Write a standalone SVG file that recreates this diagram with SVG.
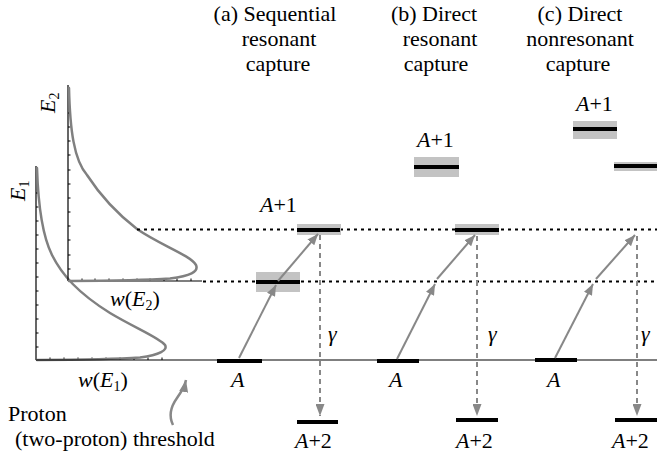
<svg xmlns="http://www.w3.org/2000/svg" width="657" height="457" viewBox="0 0 657 457">
<defs>
<style>
text{font-family:"Liberation Serif","Times New Roman",serif;font-size:22px;fill:#000}
.it{font-style:italic}
.sub{font-size:14px;font-style:normal}
.axis{stroke:#000;stroke-width:1.2;fill:none}
.tick{stroke:#000;stroke-width:1}
.curve{stroke:#808080;stroke-width:2.5;fill:none;stroke-linecap:round}
.dot{stroke:#000;stroke-width:1.8;stroke-dasharray:3 4;fill:none}
.lvl{stroke:#000;stroke-width:4}
.box{fill:#c3c3c3}
.arr{stroke:#888;stroke-width:2;fill:none}
.gam{stroke:#888;stroke-width:2;stroke-dasharray:5 4;fill:none}
</style>
<marker id="ah" markerUnits="userSpaceOnUse" markerWidth="11" markerHeight="9" refX="11" refY="4.5" orient="auto">
<path d="M0,0 L11,4.5 L0,9 z" fill="#888"/>
</marker>
<marker id="ahg" markerUnits="userSpaceOnUse" markerWidth="12" markerHeight="9" refX="12" refY="4.5" orient="auto">
<path d="M0,0 L12,4.5 L0,9 z" fill="#888"/>
</marker>
</defs>

<g id="plot-E1">
<line class="axis" x1="36" y1="166" x2="36" y2="360"/>
<g class="tick">
<line x1="36" y1="193" x2="38.5" y2="193"/><line x1="36" y1="207" x2="38.5" y2="207"/><line x1="36" y1="221" x2="38.5" y2="221"/><line x1="36" y1="235" x2="38.5" y2="235"/><line x1="36" y1="249" x2="38.5" y2="249"/><line x1="36" y1="263" x2="38.5" y2="263"/><line x1="36" y1="277" x2="38.5" y2="277"/><line x1="36" y1="291" x2="38.5" y2="291"/><line x1="36" y1="305" x2="38.5" y2="305"/><line x1="36" y1="319" x2="38.5" y2="319"/><line x1="36" y1="333" x2="38.5" y2="333"/><line x1="36" y1="347" x2="38.5" y2="347"/>
<line x1="50" y1="360" x2="50" y2="357.5"/><line x1="64" y1="360" x2="64" y2="357.5"/><line x1="78" y1="360" x2="78" y2="357.5"/><line x1="92" y1="360" x2="92" y2="357.5"/><line x1="106" y1="360" x2="106" y2="357.5"/><line x1="120" y1="360" x2="120" y2="357.5"/><line x1="134" y1="360" x2="134" y2="357.5"/><line x1="148" y1="360" x2="148" y2="357.5"/><line x1="162" y1="360" x2="162" y2="357.5"/>
</g>
<path class="curve" d="M37,168 C38,200 42,235 52,255 C62,275 78,293 110,313 C135,328 160,338 165,345 C168,350 160,355 140,357.5 C110,359.5 70,359.8 37,360"/>
<text class="it" x="0" y="0" transform="translate(25,201) rotate(-90)">E<tspan class="sub" dy="4">1</tspan></text>
<text x="78" y="387"><tspan class="it">w</tspan>(<tspan class="it">E</tspan><tspan class="sub" dy="4">1</tspan><tspan dy="-4">)</tspan></text>
</g>

<g id="plot-E2">
<line class="axis" x1="68" y1="85" x2="68" y2="281"/>
<line class="axis" x1="68" y1="281" x2="202" y2="281"/>
<g class="tick">
<line x1="68" y1="113" x2="70.5" y2="113"/><line x1="68" y1="127" x2="70.5" y2="127"/><line x1="68" y1="141" x2="70.5" y2="141"/><line x1="68" y1="155" x2="70.5" y2="155"/><line x1="68" y1="170" x2="70.5" y2="170"/><line x1="68" y1="184" x2="70.5" y2="184"/><line x1="68" y1="198" x2="70.5" y2="198"/><line x1="68" y1="212" x2="70.5" y2="212"/><line x1="68" y1="226" x2="70.5" y2="226"/><line x1="68" y1="240" x2="70.5" y2="240"/><line x1="68" y1="255" x2="70.5" y2="255"/><line x1="68" y1="269" x2="70.5" y2="269"/>
<line x1="82" y1="281" x2="82" y2="278.5"/><line x1="95" y1="281" x2="95" y2="278.5"/><line x1="109" y1="281" x2="109" y2="278.5"/><line x1="123" y1="281" x2="123" y2="278.5"/><line x1="137" y1="281" x2="137" y2="278.5"/><line x1="150" y1="281" x2="150" y2="278.5"/><line x1="164" y1="281" x2="164" y2="278.5"/><line x1="177" y1="281" x2="177" y2="278.5"/><line x1="191" y1="281" x2="191" y2="278.5"/>
</g>
<path class="curve" d="M69,88 C70,130 74,160 87,175 C100,195 115,212 137,229 C160,245 190,255 196,265 C199,272 190,276 170,278.5 C140,280.5 100,280.8 69,281"/>
<text class="it" x="0" y="0" transform="translate(55,113) rotate(-90)">E<tspan class="sub" dy="4">2</tspan></text>
<text x="110" y="306"><tspan class="it">w</tspan>(<tspan class="it">E</tspan><tspan class="sub" dy="4">2</tspan><tspan dy="-4">)</tspan></text>
</g>

<g id="threshold">
<line class="axis" x1="36" y1="360" x2="657" y2="360"/>
<path d="M173,425 C168,415 172,405 177,398 C182,391 185,385 186,380" stroke="#888" stroke-width="2.5" fill="none" marker-end="url(#ahg)"/>
<text x="8" y="421">Proton</text>
<text x="15" y="446">(two-proton) threshold</text>
</g>

<g id="levels-guides">
<line class="dot" x1="137" y1="229.5" x2="657" y2="229.5"/>
<line class="dot" x1="203" y1="281.5" x2="657" y2="281.5"/>
</g>

<g id="col-a">
<text x="275" y="21" text-anchor="middle">(a) Sequential</text>
<text x="279" y="46" text-anchor="middle">resonant</text>
<text x="278" y="71" text-anchor="middle">capture</text>
<rect class="box" x="256" y="272" width="44" height="20"/>
<line class="lvl" x1="256" y1="282" x2="300" y2="282"/>
<rect class="box" x="297" y="224" width="44" height="11"/>
<line class="lvl" x1="297" y1="230" x2="340" y2="230"/>
<line class="lvl" x1="217" y1="361" x2="262" y2="361"/>
<text x="260" y="212"><tspan class="it">A</tspan>+1</text>
<text class="it" x="231" y="387">A</text>
<line class="lvl" x1="297" y1="422" x2="338" y2="422"/>
<text x="295" y="448"><tspan class="it">A</tspan>+2</text>
<text class="it" x="328" y="341">γ</text>
</g>

<g id="col-b">
<text x="434" y="21" text-anchor="middle">(b) Direct</text>
<text x="440" y="46" text-anchor="middle">resonant</text>
<text x="436" y="71" text-anchor="middle">capture</text>
<rect class="box" x="414" y="157" width="45" height="20"/>
<line class="lvl" x1="414" y1="167" x2="459" y2="167"/>
<rect class="box" x="455" y="224" width="44" height="11"/>
<line class="lvl" x1="455" y1="230" x2="499" y2="230"/>
<line class="lvl" x1="377" y1="361" x2="419" y2="361"/>
<text x="417" y="147"><tspan class="it">A</tspan>+1</text>
<text class="it" x="389" y="387">A</text>
<line class="lvl" x1="456" y1="420" x2="498" y2="420"/>
<text x="456" y="448"><tspan class="it">A</tspan>+2</text>
<text class="it" x="488" y="341">γ</text>
</g>

<g id="col-c">
<text x="580" y="21" text-anchor="middle">(c) Direct</text>
<text x="580" y="46" text-anchor="middle">nonresonant</text>
<text x="578" y="71" text-anchor="middle">capture</text>
<rect class="box" x="573" y="121" width="44" height="18"/>
<line class="lvl" x1="573" y1="129" x2="617" y2="129"/>
<rect class="box" x="614" y="162" width="43" height="9"/>
<line class="lvl" x1="614" y1="166" x2="657" y2="166"/>
<line class="lvl" x1="535" y1="360" x2="577" y2="360"/>
<text x="576" y="111"><tspan class="it">A</tspan>+1</text>
<text class="it" x="547" y="387">A</text>
<line class="lvl" x1="615" y1="420" x2="657" y2="420"/>
<text x="612" y="448"><tspan class="it">A</tspan>+2</text>
<text class="it" x="641" y="341">γ</text>
</g>

<g id="connectors">
<line class="arr" x1="239" y1="358" x2="276" y2="285" marker-end="url(#ah)"/>
<line class="arr" x1="278" y1="281" x2="318" y2="234" marker-end="url(#ah)"/>
<line class="gam" x1="320" y1="235" x2="320" y2="416" marker-end="url(#ahg)"/>
<line class="arr" x1="397" y1="359" x2="435" y2="284" marker-end="url(#ah)"/>
<line class="arr" x1="437" y1="279" x2="475" y2="235" marker-end="url(#ah)"/>
<line class="gam" x1="477" y1="236" x2="477" y2="416" marker-end="url(#ahg)"/>
<line class="arr" x1="555" y1="358" x2="593" y2="284" marker-end="url(#ah)"/>
<line class="arr" x1="596" y1="279" x2="635" y2="235" marker-end="url(#ah)"/>
<line class="gam" x1="637" y1="236" x2="637" y2="416" marker-end="url(#ahg)"/>
</g>
</svg>
